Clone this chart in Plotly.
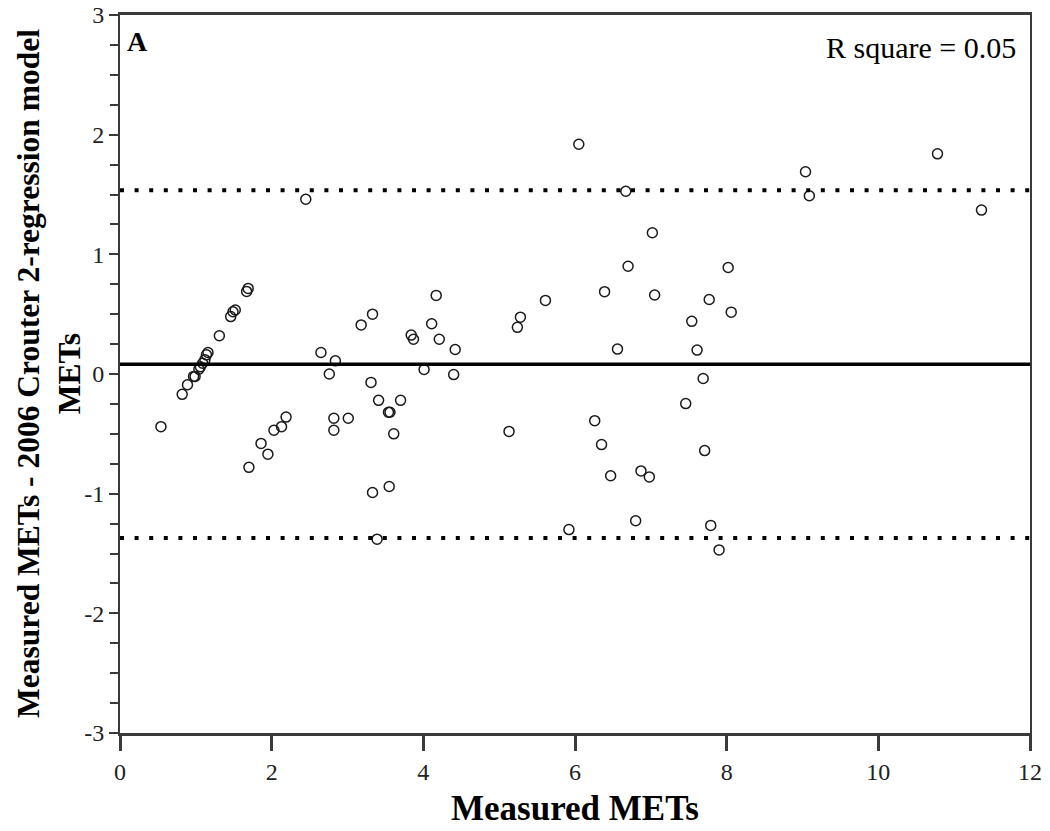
import plotly.graph_objects as go

# Measured METs (x) and difference Measured - Crouter 2006 estimate (y)
measured_mets = [
    0.54, 0.82, 0.89, 0.97, 0.99, 1.04, 1.06, 1.09, 1.12, 1.14, 1.16,
    1.31, 1.46, 1.49, 1.52, 1.67, 1.69, 1.70, 1.86, 1.95, 2.03, 2.13, 2.19,
    2.45, 2.65, 2.76, 2.84, 2.82, 2.82, 3.01, 3.18, 3.33, 3.31, 3.41, 3.54,
    3.56, 3.61, 3.70, 3.33, 3.55, 3.39, 3.84, 3.87, 4.11, 4.17, 4.21, 4.01,
    4.42, 4.40, 5.13, 5.24, 5.28, 5.61, 5.92, 6.05, 6.26, 6.35, 6.39, 6.47,
    6.56, 6.67, 6.70, 6.80, 6.87, 6.98, 7.02, 7.05, 7.46, 7.54, 7.61, 7.69,
    7.71, 7.77, 7.79, 7.90, 8.02, 8.06, 9.04, 9.09, 10.78, 11.36,
]
difference = [
    -0.44, -0.17, -0.09, -0.02, -0.02, 0.04, 0.06, 0.09, 0.12, 0.16, 0.18,
    0.32, 0.48, 0.52, 0.535, 0.69, 0.715, -0.78, -0.58, -0.67, -0.47, -0.44, -0.36,
    1.46, 0.18, 0.00, 0.11, -0.37, -0.47, -0.37, 0.41, 0.50, -0.07, -0.22, -0.32,
    -0.32, -0.50, -0.22, -0.99, -0.94, -1.38, 0.325, 0.29, 0.42, 0.657, 0.29, 0.038,
    0.205, -0.005, -0.48, 0.39, 0.475, 0.615, -1.30, 1.92, -0.39, -0.59, 0.688, -0.85,
    0.208, 1.527, 0.90, -1.226, -0.81, -0.86, 1.18, 0.66, -0.247, 0.44, 0.20, -0.038,
    -0.64, 0.623, -1.265, -1.47, 0.89, 0.517, 1.69, 1.49, 1.84, 1.37,
]

mean_bias = 0.082
upper_loa = 1.536
lower_loa = -1.371

x_range = [0, 12]
y_range = [-3, 3]
x_ticks = [0, 2, 4, 6, 8, 10, 12]
y_ticks = [-3, -2, -1, 0, 1, 2, 3]
y_tick_labels = ["-3", "-2", "-1", "0", "1", "2", "3"]

FONT = "Liberation Serif"
AX = "#3a3a3a"

fig = go.Figure()
fig.add_trace(go.Scatter(
    x=measured_mets, y=difference, mode="markers",
    marker=dict(symbol="circle-open", size=10, color="#1a1a1a",
                line=dict(width=1.5, color="#1a1a1a")),
    showlegend=False, hoverinfo="x+y",
))

fig.add_shape(type="line", xref="x", yref="y", x0=x_range[0], x1=x_range[1],
              y0=mean_bias, y1=mean_bias, line=dict(color="black", width=3.5))
for v in (upper_loa, lower_loa):
    fig.add_shape(type="line", xref="x", yref="y", x0=x_range[0], x1=x_range[1],
                  y0=v, y1=v, line=dict(color="black", width=4, dash="4px,10.6px"))

fig.add_annotation(x=0, y=1, xref="paper", yref="paper", text="<b>A</b>",
                   showarrow=False, xanchor="left", yanchor="top",
                   xshift=5, yshift=-9, font=dict(family=FONT, size=28, color="black"))
fig.add_annotation(x=1, y=1, xref="paper", yref="paper", text="R square = 0.05",
                   showarrow=False, xanchor="right", yanchor="top",
                   xshift=-12, yshift=-14, font=dict(family=FONT, size=30, color="black"))
# y-axis title (two lines, rotated)
fig.add_annotation(x=0, y=0.5, xref="paper", yref="paper",
                   text="<b>Measured METs - 2006 Crouter 2-regression model<br>METs</b>",
                   showarrow=False, textangle=-90, xanchor="center", yanchor="middle",
                   xshift=-71, font=dict(family=FONT, size=31.5, color="black"))

fig.update_layout(
    width=1050, height=831,
    margin=dict(l=120, r=20, t=15, b=98),
    paper_bgcolor="white", plot_bgcolor="white",
    font=dict(family=FONT, color="#222"),
    xaxis=dict(
        range=x_range, tickvals=x_ticks, ticks="outside", ticklen=15, tickwidth=2.5,
        tickcolor=AX, showline=True, linecolor=AX, linewidth=2.5, mirror=True,
        showgrid=False, zeroline=False, automargin=False, ticklabeloverflow="allow",
        tickfont=dict(family=FONT, size=24, color="#222"),
        title=dict(text="<b>Measured METs</b>", font=dict(family=FONT, size=35, color="black"),
                   standoff=12),
    ),
    yaxis=dict(
        range=y_range, tickvals=y_ticks, ticktext=y_tick_labels,
        ticks="outside", ticklen=9, tickwidth=2,
        tickcolor=AX, showline=True, linecolor=AX, linewidth=2, mirror=True,
        showgrid=False, zeroline=False, automargin=False, ticklabeloverflow="allow",
        minor=dict(dtick=0.25, ticks="outside", ticklen=8, tickwidth=2, tickcolor=AX,
                   showgrid=False),
        tickfont=dict(family=FONT, size=24, color="#222"),
    ),
)

fig.write_html(
    "out.html",
    config={"displayModeBar": False},
    post_script="document.body.style.margin='0';document.body.style.overflow='hidden';",
)
